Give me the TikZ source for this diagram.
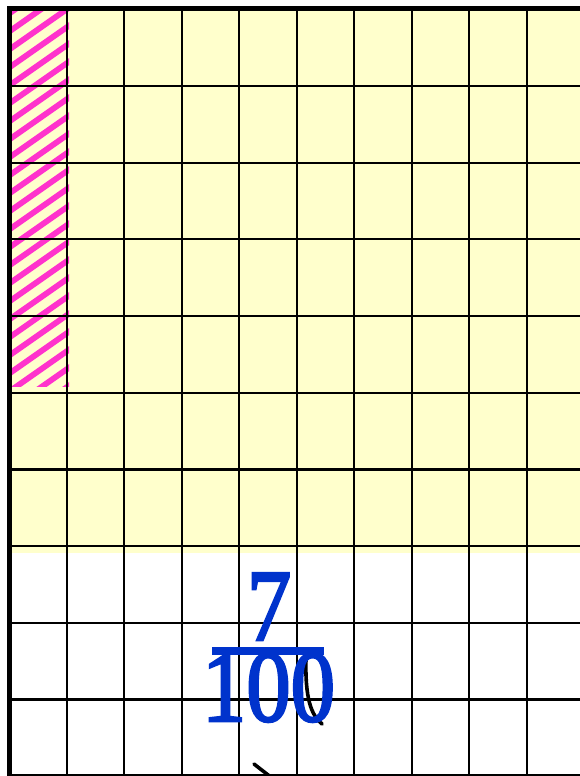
\documentclass[tikz,border=0pt]{standalone}
\usepackage{fontspec}
\newfontfamily\digitfont[FakeBold=2.6]{Liberation Serif}
\definecolor{cellyellow}{HTML}{FFFFCC}
\definecolor{hatchpink}{HTML}{FF33CC}
\definecolor{fracblue}{HTML}{0033CC}
\begin{document}
\begin{tikzpicture}[x=1pt,y=-1pt,
  thinline/.style={black,line width=2.2pt},
  digits/.style={text=fracblue,font=\digitfont\fontsize{102}{102}\selectfont,inner sep=0pt,anchor=base,xscale=0.87},
  blackstroke/.style={black,line width=3.6pt,line cap=round}]
\useasboundingbox (0,0) rectangle (580,776);
\fill[white] (0,0) rectangle (580,776);
% yellow region
\fill[cellyellow] (9,9) rectangle (580,553);
% hatched column
\begin{scope}
  \clip (12,10) rectangle (69,386);
  \foreach \i in {-8,...,28} {
    \draw[hatchpink,line width=5.8pt] (0,{2+18*\i}) -- (90,{2+18*\i-63});
  }
\end{scope}
% grid lines
\foreach \k in {1,...,9} {
  \draw[thinline] ({9.3+57.5*\k},8) -- ({9.3+57.5*\k},776);
}
\foreach \k in {1,...,9} {
  \draw[thinline] (9,{9.2+76.7*\k}) -- (580,{9.2+76.7*\k});
}
\draw[thinline] (9,775) -- (580,775);
\draw[black,line width=4.5pt] (7,8.5) -- (580,8.5);
\draw[black,line width=5.3pt] (9.3,6.5) -- (9.3,776);
% black strokes
\draw[blackstroke] (306,659) .. controls (305,698) and (311,715) .. (322,724);
\draw[blackstroke] (254,764) -- (272,778);
% fraction
\node[digits] (num) at (269,640) {7};
\coordinate (barL) at (212,651);
\coordinate (barR) at (324,651);
\draw[fracblue,line width=8pt] (barL) -- (barR);
\node[digits] (den) at (268.5,721) {100};
\end{tikzpicture}
\end{document}
